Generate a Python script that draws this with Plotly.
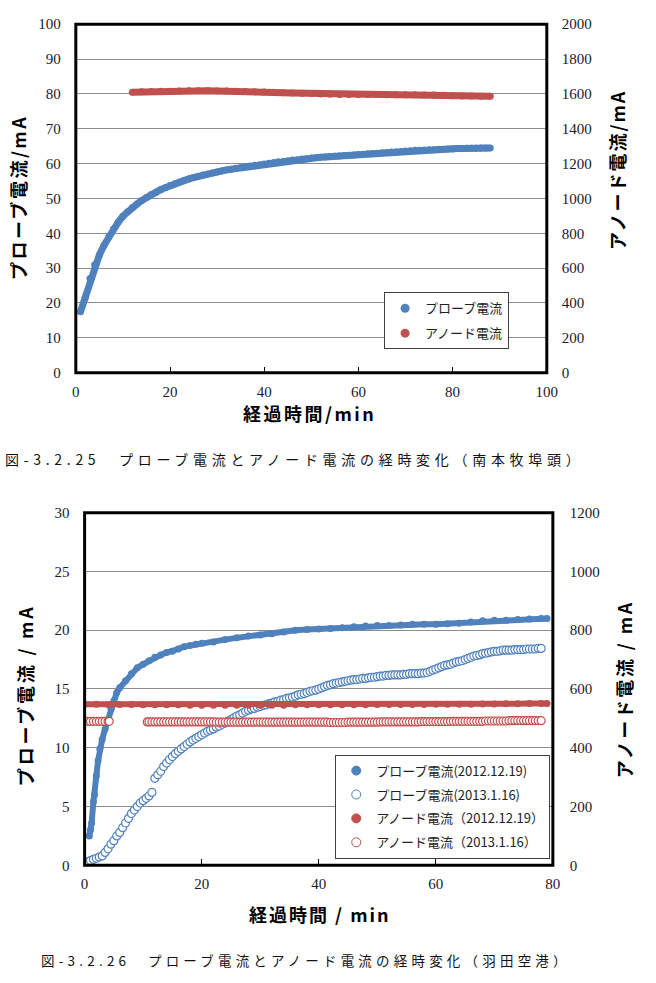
import plotly.graph_objects as go

W, H = 656, 983

# ---------------- 図-3.2.25 (南本牧埠頭) ----------------
top_probe_t = list(range(1, 89))
top_probe_mA = [17.5, 21.5, 27.0, 31.0, 33.8, 36.6, 39.0, 41.2, 43.2, 44.9,
                46.2, 47.4, 48.4, 49.4, 50.3, 51.1, 51.8, 52.5, 53.1, 53.7,
                54.2, 54.7, 55.2, 55.6, 56.0, 56.4, 56.7, 57.0, 57.3, 57.6,
                57.9, 58.2, 58.4, 58.7, 58.9, 59.1, 59.3, 59.5, 59.7, 59.9,
                60.1, 60.3, 60.5, 60.6, 60.8, 61.0, 61.1, 61.3, 61.4, 61.6,
                61.7, 61.8, 61.9, 62.0, 62.1, 62.2, 62.3, 62.4, 62.5, 62.6,
                62.7, 62.8, 62.9, 63.0, 63.1, 63.2, 63.3, 63.4, 63.5, 63.6,
                63.7, 63.8, 63.8, 63.9, 64.0, 64.0, 64.1, 64.1, 64.2, 64.2,
                64.3, 64.3, 64.4, 64.4, 64.4, 64.5, 64.5, 64.5]
top_anode_t = list(range(12, 89, 2))
top_anode_mA = [1610, 1612, 1614, 1615, 1616, 1617, 1618, 1618, 1618, 1617,
                1617, 1616, 1614, 1612, 1611, 1609, 1607, 1605, 1604, 1602,
                1600, 1598, 1597, 1597, 1596, 1596, 1596, 1595, 1595, 1595,
                1595, 1594, 1594, 1592, 1589, 1588, 1588, 1587, 1587]

# ---------------- 図-3.2.26 (羽田空港) ----------------
p1219_t = [0.8, 1.0, 1.2, 1.5, 1.7, 2.0, 2.3, 2.6, 3.0, 3.5, 4.0, 4.5, 5.0, 5.5,
           6, 7, 8, 9, 10, 11, 12, 13, 14, 15, 16, 17, 18, 19, 20, 22, 24, 26,
           28, 30, 32, 34, 36, 38, 40, 42, 44, 46, 48, 50, 52, 54, 56, 58, 60,
           62, 64, 66, 68, 70, 72, 74, 76, 78, 79]
p1219_mA = [2.5, 3.0, 3.6, 5.4, 6.0, 7.6, 8.9, 9.9, 10.7, 11.6, 12.4, 13.3, 14.0, 14.7,
            15.1, 15.7, 16.3, 16.8, 17.1, 17.4, 17.7, 17.9, 18.1, 18.2, 18.4, 18.6, 18.7,
            18.8, 18.9, 19.0, 19.2, 19.35, 19.5, 19.6, 19.7, 19.85, 20.0, 20.05, 20.1,
            20.15, 20.2, 20.3, 20.35, 20.4, 20.4, 20.45, 20.5, 20.5, 20.5, 20.55, 20.6,
            20.7, 20.8, 20.85, 20.85, 20.9, 20.95, 21.0, 21.0]

p0116_t = [i / 2 for i in range(0, 157)]          # 0 .. 78 min, every 0.5 min
p0116_mA = [0.2, 0.3, 0.4, 0.5, 0.6, 0.7, 0.8, 1.1, 1.4, 1.8,
            2.1, 2.5, 2.8, 3.2, 3.6, 4.0, 4.4, 4.7, 5.0, 5.3,
            5.5, 5.7, 5.9, 6.2, 7.4, 7.7, 8.0, 8.4, 8.7, 9.0,
            9.25, 9.5, 9.7, 9.9, 10.1, 10.3, 10.5, 10.65, 10.8, 10.95,
            11.1, 11.25, 11.4, 11.5, 11.6, 11.75, 11.85, 12.0, 12.1, 12.25,
            12.4, 12.55, 12.7, 12.8, 12.95, 13.1, 13.2, 13.3, 13.35, 13.45,
            13.5, 13.6, 13.65, 13.75, 13.8, 13.9, 13.95, 14.05, 14.1, 14.2,
            14.25, 14.3, 14.4, 14.5, 14.55, 14.6, 14.7, 14.8, 14.85, 14.9,
            15.0, 15.1, 15.2, 15.3, 15.35, 15.45, 15.5, 15.55, 15.6, 15.65,
            15.7, 15.75, 15.8, 15.8, 15.85, 15.9, 15.9, 15.95, 16.0, 16.0,
            16.05, 16.1, 16.1, 16.15, 16.15, 16.2, 16.2, 16.2, 16.2, 16.25,
            16.25, 16.3, 16.3, 16.3, 16.3, 16.35, 16.35, 16.4, 16.5, 16.6,
            16.7, 16.8, 16.9, 17.0, 17.05, 17.1, 17.2, 17.3, 17.35, 17.4,
            17.5, 17.6, 17.7, 17.8, 17.85, 17.9, 18.0, 18.05, 18.1, 18.15,
            18.2, 18.2, 18.25, 18.3, 18.3, 18.3, 18.3, 18.35, 18.35, 18.35,
            18.35, 18.4, 18.4, 18.4, 18.4, 18.45, 18.45]

a1219_t = list(range(0, 79, 2)) + [79]
a1219_mA = [548, 548, 547, 547, 547, 546, 546, 546, 546, 545, 545, 545, 545, 545,
            545, 545, 545, 545, 546, 546, 546, 546, 546, 546, 546, 547, 547, 547,
            547, 547, 548, 548, 548, 548, 549, 549, 550, 550, 551, 551, 551]

a0116_t = [0, 0.5, 1.0, 1.5, 2.0, 2.5, 3.0, 3.5, 4.0, 4.2, 10.7] + [11 + i / 2 for i in range(0, 135)]
a0116_mA = [490, 490, 490, 490, 490, 490, 490, 490, 490, 490, 488,
            488, 488, 488, 488, 488, 488, 488, 488, 488, 488,
            488, 488, 488, 488, 488, 488, 488, 488, 488, 488,
            488, 488, 488, 487, 487, 487, 487, 487, 487, 487,
            487, 487, 487, 487, 487, 487, 487, 487, 487, 487,
            487, 487, 487, 487, 487, 487, 487, 487, 487, 487,
            487, 487, 487, 487, 487, 487, 487, 487, 487, 487,
            487, 487, 486, 486, 486, 486, 486, 486, 487, 487,
            487, 487, 487, 487, 487, 487, 487, 487, 487, 488,
            488, 488, 488, 488, 488, 488, 488, 488, 488, 488,
            488, 488, 488, 489, 489, 489, 489, 489, 489, 489,
            489, 489, 489, 490, 490, 490, 490, 490, 490, 490,
            490, 490, 490, 490, 490, 491, 491, 491, 491, 491,
            491, 491, 491, 492, 492, 492, 492, 492, 492, 492,
            492, 492, 492, 492, 492]

# ---------------- styling ----------------
BLUE = "#4F81BD"
RED = "#C0504D"
CJK = "Noto Sans CJK JP"
TICKFONT = dict(family="Liberation Serif, Times New Roman, serif", size=15, color="#1a1a2e")

def px_x(p):
    return p / W

def px_y(p):
    return 1 - p / H

fig = go.Figure()

# top chart traces
fig.add_trace(go.Scatter(x=top_probe_t, y=top_probe_mA, mode="lines+markers",
                         line=dict(color=BLUE, width=7), marker=dict(color=BLUE, size=7),
                         xaxis="x", yaxis="y", showlegend=False))
fig.add_trace(go.Scatter(x=top_anode_t, y=top_anode_mA, mode="lines+markers",
                         line=dict(color=RED, width=7), marker=dict(color=RED, size=7),
                         xaxis="x", yaxis="y2", showlegend=False))
fig.add_trace(go.Scatter(x=[None], y=[None], mode="markers", name="プローブ電流",
                         marker=dict(color=BLUE, size=9), xaxis="x", yaxis="y",
                         legend="legend", legendgroup="a"))
fig.add_trace(go.Scatter(x=[None], y=[None], mode="markers", name="アノード電流",
                         marker=dict(color=RED, size=9), xaxis="x", yaxis="y2",
                         legend="legend", legendgroup="b"))

# bottom chart traces
fig.add_trace(go.Scatter(x=p1219_t, y=p1219_mA, mode="lines+markers",
                         line=dict(color=BLUE, width=6), marker=dict(color=BLUE, size=7),
                         xaxis="x2", yaxis="y3", showlegend=False))
fig.add_trace(go.Scatter(x=p0116_t, y=p0116_mA, mode="markers",
                         marker=dict(color="white", size=8, line=dict(color=BLUE, width=1.2)),
                         xaxis="x2", yaxis="y3", showlegend=False))
fig.add_trace(go.Scatter(x=a1219_t, y=a1219_mA, mode="lines+markers",
                         line=dict(color=RED, width=6), marker=dict(color=RED, size=7),
                         xaxis="x2", yaxis="y4", showlegend=False))
fig.add_trace(go.Scatter(x=a0116_t, y=a0116_mA, mode="markers",
                         marker=dict(color="white", size=8, line=dict(color=RED, width=1.2)),
                         xaxis="x2", yaxis="y4", showlegend=False))
leg2 = [("プローブ電流(2012.12.19)", BLUE, BLUE, "y3"),
        ("プローブ電流(2013.1.16)", "white", BLUE, "y3"),
        ("アノード電流（2012.12.19）", RED, RED, "y4"),
        ("アノード電流（2013.1.16）", "white", RED, "y4")]
for i, (nm, fc, lc, ya) in enumerate(leg2):
    fig.add_trace(go.Scatter(x=[None], y=[None], mode="markers", name=nm,
                             marker=dict(color=fc, size=9, line=dict(color=lc, width=1)),
                             xaxis="x2", yaxis=ya, legend="legend2", legendgroup="g%d" % i))

top_xd = [px_x(73.5), px_x(555.5)]
top_yd = [px_y(370.7), px_y(16.5)]
bot_xd = [px_x(82.5), px_x(561.7)]
bot_yd = [px_y(871.5), px_y(513.0)]

xcommon = dict(showgrid=False, zeroline=False, ticks="inside", ticklen=6, tickwidth=1,
               tickcolor="black", tickfont=TICKFONT, showline=False, ticklabelstandoff=8)
ycommon = dict(zeroline=False, ticks="", tickfont=TICKFONT, showline=False)

fig.update_layout(
    width=W, height=H, margin=dict(l=0, r=0, t=0, b=0),
    paper_bgcolor="white", plot_bgcolor="white",
    xaxis=dict(domain=top_xd, anchor="y", range=[0, 100], dtick=20, **xcommon),
    yaxis=dict(domain=top_yd, anchor="x", range=[0, 100], dtick=10, showgrid=True,
               gridcolor="#8c8c8c", gridwidth=1, ticklabelstandoff=14, **ycommon),
    yaxis2=dict(overlaying="y", anchor="x", side="right", range=[0, 2000], dtick=200,
                showgrid=False, ticklabelstandoff=14, **ycommon),
    xaxis2=dict(domain=bot_xd, anchor="y3", range=[0, 80], dtick=20, **xcommon),
    yaxis3=dict(domain=bot_yd, anchor="x2", range=[0, 30], dtick=5, showgrid=True,
                gridcolor="#8c8c8c", gridwidth=1, ticklabelstandoff=14, **ycommon),
    yaxis4=dict(overlaying="y3", anchor="x2", side="right", range=[0, 1200], dtick=200,
                showgrid=False, ticklabelstandoff=16, **ycommon),
    legend=dict(x=px_x(389), y=px_y(289), xanchor="left", yanchor="top",
                bgcolor="white", bordercolor="#404040", borderwidth=1,
                font=dict(family=CJK, size=13, color="#222"),
                traceorder="grouped", tracegroupgap=5),
    legend2=dict(x=px_x(339), y=px_y(759), xanchor="left", yanchor="top",
                 bgcolor="white", bordercolor="#404040", borderwidth=1,
                 font=dict(family=CJK, size=13, color="#222"),
                 traceorder="grouped", tracegroupgap=4),
)

for xr, yr in (("x domain", "y domain"), ("x2 domain", "y3 domain")):
    fig.add_shape(type="rect", xref=xr, yref=yr, x0=0, x1=1, y0=0, y1=1,
                  line=dict(color="black", width=3), layer="above")

def sp(txt, ls):
    return '<span style="letter-spacing:%spx">%s</span>' % (ls, txt)

TITLEFONT = dict(family=CJK, size=18, color="black")
ann = [
    (sp("<b>経過時間/min</b>", 2.5), 312.5, 412, 0),
    (sp("<b>プローブ電流/mA</b>", 2.5), 14.5, 193, -90),
    (sp("<b>アノード電流/mA</b>", 2.0), 628, 165, -90),
    (sp("<b>経過時間 / min</b>", 2.0), 323, 921, 0),
    (sp("<b>プローブ電流 / mA</b>", 2.8), 21, 699, -90),
    (sp("<b>アノード電流 / mA</b>", 2.5), 634, 693, -90),
]
for txt, xp, yp, ang in ann:
    fig.add_annotation(text=txt, x=px_x(xp), y=px_y(yp), xref="paper", yref="paper",
                       xanchor="center", yanchor="middle", showarrow=False,
                       textangle=ang, font=TITLEFONT)

fig.add_annotation(text=sp("図-3.2.25　プローブ電流とアノード電流の経時変化（南本牧埠頭）", 4.7),
                   x=px_x(297), y=px_y(458), xref="paper", yref="paper",
                   xanchor="center", yanchor="middle", showarrow=False,
                   font=dict(family=CJK, size=14, color="#111"))
fig.add_annotation(text=sp("図-3.2.26　プローブ電流とアノード電流の経時変化（羽田空港）", 4.2),
                   x=px_x(309), y=px_y(968), xref="paper", yref="paper",
                   xanchor="center", yanchor="middle", showarrow=False,
                   font=dict(family=CJK, size=13.5, color="#111"))

fig.write_html("out.html")
